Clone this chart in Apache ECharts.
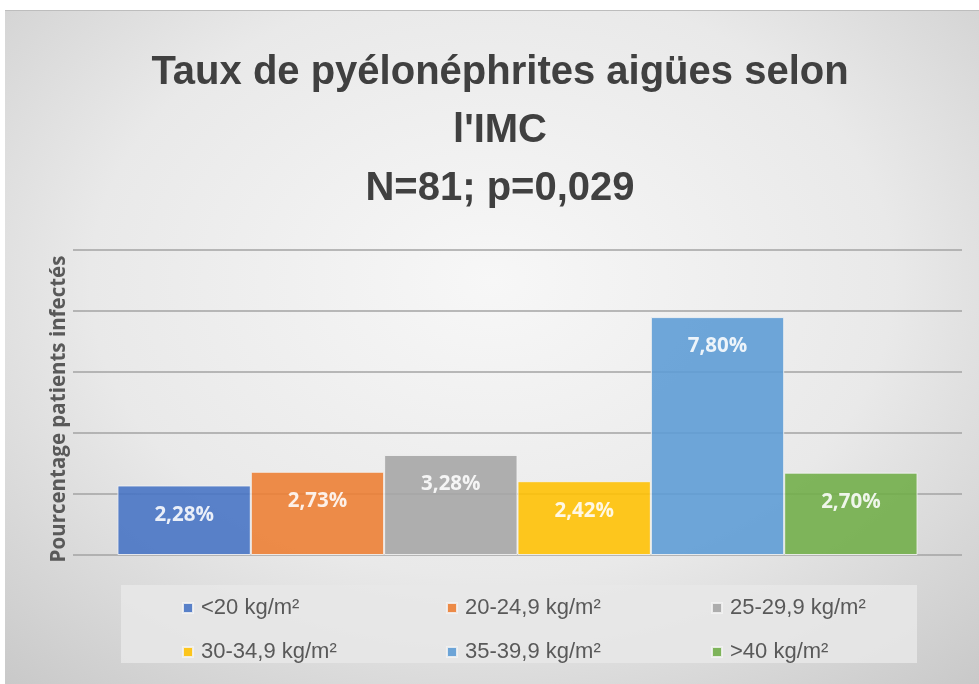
<!DOCTYPE html>
<html>
<head>
<meta charset="utf-8">
<script src="https://cdn.jsdelivr.net/npm/echarts@6/dist/echarts.min.js"></script>
<style>
  html, body { margin: 0; padding: 0; background: #fff; width: 979px; height: 684px; overflow: hidden; }
  #chart {
    position: absolute; left: 5px; top: 10px; width: 974px; height: 674px;
    background: radial-gradient(ellipse 75% 80% at 50% 40%, #f7f7f7 0%, #e9e9e9 55%, #c9c9c9 100%);
    border-top: 1px solid #bdbdbd;
  }
</style>
</head>
<body>
<div id="chart"></div>
<script>
  // IMC classes
  var categories = ['<20 kg/m²', '20-24,9 kg/m²', '25-29,9 kg/m²', '30-34,9 kg/m²', '35-39,9 kg/m²', '>40 kg/m²'];
  // taux de PNA (%)
  var values = [2.28, 2.73, 3.28, 2.42, 7.80, 2.70];
  var colors = ['#4472C4', '#ED7D31', '#A5A5A5', '#FFC000', '#5B9BD5', '#70AD47'];

  var myChart = echarts.init(document.getElementById('chart'));

  var series = [];
  for (var i = 0; i < categories.length; i++) {
    series.push({
      name: categories[i],
      type: 'bar',
      data: [values[i]],
      barGap: '0%',
      barCategoryGap: '10%',
      itemStyle: { color: colors[i], opacity: 0.88, borderColor: '#f2f2f2', borderWidth: 1 },
      label: {
        show: true,
        position: 'insideTop',
        distance: 19,
        color: '#fff',
        fontFamily: 'Open Sans',
        fontWeight: 'bold',
        fontSize: 20.5,
        formatter: function (p) { return p.value.toFixed(2).replace('.', ',') + '%'; }
      }
    });
  }

  // one legend per column, 2 rows
  var legendCols = [[0, 3], [1, 4], [2, 5]];
  var legendX = [177, 441, 706];
  var legends = legendCols.map(function (col, k) {
    return {
      orient: 'vertical',
      left: legendX[k],
      top: 586,
      padding: 0,
      itemGap: 22,
      itemWidth: 10,
      itemHeight: 10,
      icon: 'rect',
      data: [categories[col[0]], categories[col[1]]],
      selectedMode: false,
      textStyle: { color: '#595959', fontSize: 22, lineHeight: 22, fontFamily: 'Liberation Sans, sans-serif', padding: [0, 0, 0, 3] }
    };
  });

  var option = {
    animation: false,
    title: {
      text: "Taux de pyélonéphrites aigües selon\nl'IMC\nN=81; p=0,029",
      left: 490,
      textAlign: 'center',
      top: 28,
      textStyle: {
        color: '#404040',
        fontSize: 40,
        lineHeight: 58,
        fontWeight: 'bold',
        fontFamily: 'Liberation Sans, sans-serif'
      }
    },
    graphic: [{
      type: 'rect',
      z: -1,
      shape: { x: 116, y: 574, width: 796, height: 78 },
      style: { fill: 'rgba(232,232,232,0.85)' },
      silent: true
    }],
    legend: legends,
    grid: { left: 68, right: 17, top: 239, bottom: 130 },
    xAxis: {
      type: 'category',
      data: [''],
      axisLine: { show: false },
      axisTick: { show: false },
      axisLabel: { show: false }
    },
    yAxis: {
      type: 'value',
      min: 0,
      max: 10,
      interval: 2,
      name: 'Pourcentage patients infectés',
      nameLocation: 'middle',
      nameGap: 3,
      nameTextStyle: { color: '#595959', fontSize: 20.5, fontWeight: 'bold', fontFamily: 'Open Sans', padding: [0, 13, 0, 0] },
      axisLabel: { show: false },
      axisLine: { show: false },
      axisTick: { show: false },
      splitLine: { lineStyle: { color: '#a3a3a3', width: 1.5 } }
    },
    series: series
  };

  myChart.setOption(option);
</script>
</body>
</html>
